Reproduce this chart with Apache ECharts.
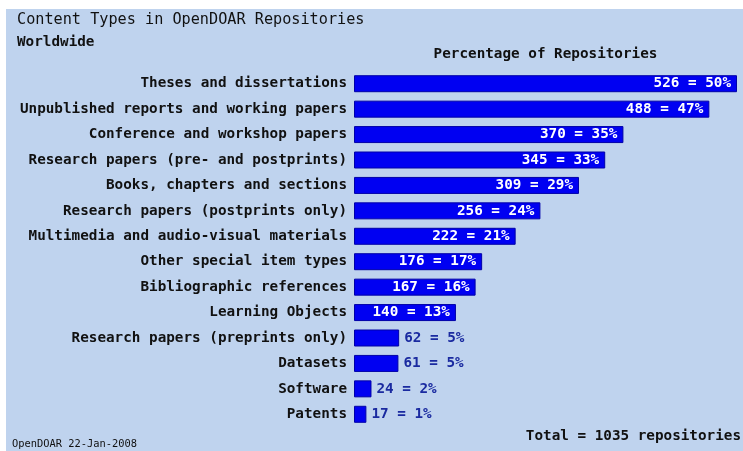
<!DOCTYPE html>
<html>
<head>
<meta charset="utf-8">
<script src="https://cdn.jsdelivr.net/npm/echarts@6/dist/echarts.min.js"></script>
<style>
html,body{margin:0;padding:0;background:#fff;}
#chart{width:743px;height:451px;}
</style>
</head>
<body>
<div id="chart"></div>
<script>
const categories = [
  'Theses and dissertations',
  'Unpublished reports and working papers',
  'Conference and workshop papers',
  'Research papers (pre- and postprints)',
  'Books, chapters and sections',
  'Research papers (postprints only)',
  'Multimedia and audio-visual materials',
  'Other special item types',
  'Bibliographic references',
  'Learning Objects',
  'Research papers (preprints only)',
  'Datasets',
  'Software',
  'Patents'
];
const counts = [526, 488, 370, 345, 309, 256, 222, 176, 167, 140, 62, 61, 24, 17];
const percents = [50, 47, 35, 33, 29, 24, 21, 17, 16, 13, 5, 5, 2, 1];
const totalRepositories = 1035;
const chartTitle = 'Content Types in OpenDOAR Repositories';
const chartSubtitle = 'Worldwide';
const axisTitle = 'Percentage of Repositories';
const footnote = 'OpenDOAR 22-Jan-2008';

const FONT = '"DejaVu Sans Mono", "Liberation Mono", monospace';

const barData = counts.map((v, i) => {
  const inside = v >= 100;
  return {
    value: v,
    label: {
      show: true,
      position: inside ? 'insideRight' : 'right',
      distance: inside ? 6 : 5,
      color: inside ? '#ffffff' : '#1a2aa0',
      fontFamily: FONT,
      fontWeight: 'bold',
      fontSize: 14.3,
      formatter: counts[i] + ' = ' + percents[i] + '%'
    }
  };
});

const chart = echarts.init(document.getElementById('chart'), null, {renderer: 'canvas'});
chart.setOption({
  animation: false,
  backgroundColor: '#ffffff',
  graphic: [{
    type: 'rect',
    z: -10,
    silent: true,
    shape: {x: 6, y: 9, width: 737, height: 442},
    style: {fill: '#bfd3ee'}
  }],
  title: [
    {text: chartTitle, left: 17, top: 13, padding: 0,
     textStyle: {fontFamily: FONT, fontWeight: 'normal', fontSize: 15.2, color: '#111'}},
    {text: chartSubtitle, left: 17, top: 35, padding: 0,
     textStyle: {fontFamily: FONT, fontWeight: 'bold', fontSize: 14.3, color: '#111'}},
    {text: 'Total = ' + totalRepositories + ' repositories', right: 2, top: 429, padding: 0,
     textStyle: {fontFamily: FONT, fontWeight: 'bold', fontSize: 14.3, color: '#111'}},
    {text: footnote, left: 12, top: 439, padding: 0,
     textStyle: {fontFamily: FONT, fontWeight: 'normal', fontSize: 10.4, color: '#111'}}
  ],
  grid: {left: 354, right: 6, top: 71, bottom: 24, containLabel: false},
  xAxis: {
    type: 'value',
    position: 'top',
    min: 0,
    max: 526,
    name: axisTitle,
    nameLocation: 'middle',
    nameGap: 10,
    nameTextStyle: {fontFamily: FONT, fontWeight: 'bold', fontSize: 14.3, color: '#111'},
    axisLabel: {show: false},
    axisTick: {show: false},
    axisLine: {show: false},
    splitLine: {show: false}
  },
  yAxis: {
    type: 'category',
    data: categories,
    inverse: true,
    axisLine: {show: false},
    axisTick: {show: false},
    axisLabel: {
      margin: 7,
      fontFamily: FONT,
      fontWeight: 'bold',
      fontSize: 14.3,
      color: '#111'
    }
  },
  series: [{
    type: 'bar',
    data: barData,
    barWidth: 17,
    itemStyle: {color: '#0000f2', borderColor: '#0000a8', borderWidth: 1}
  }]
});
</script>
</body>
</html>
